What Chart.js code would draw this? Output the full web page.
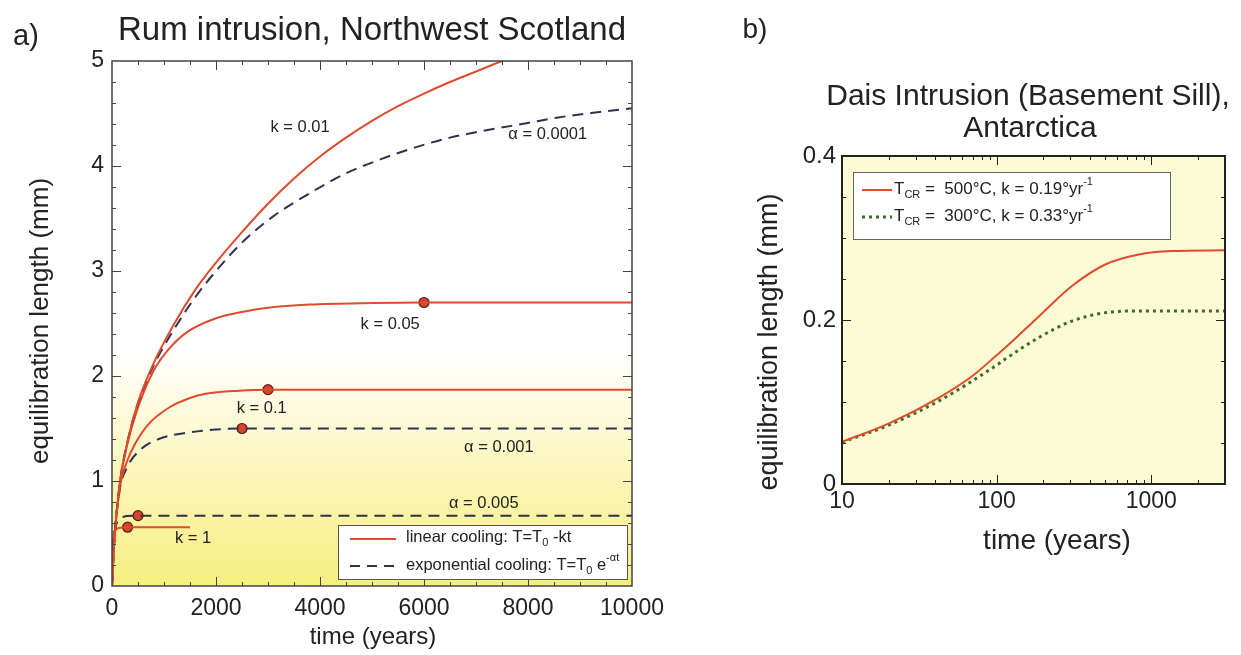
<!DOCTYPE html>
<html>
<head>
<meta charset="utf-8">
<script src="https://cdn.jsdelivr.net/npm/chart.js@4.4.0/dist/chart.umd.min.js"></script>
<style>
  body { margin: 0; background: #fff; width: 1241px; height: 655px; overflow: hidden; }
  #ca { position: absolute; left: 0; top: 0; }
  #cb { position: absolute; left: 700px; top: 0; }
</style>
</head>
<body>
<canvas id="ca" width="700" height="655"></canvas>
<canvas id="cb" width="541" height="655"></canvas>
<script>
// ---- panel a) Rum intrusion : time (years) vs equilibration length (mm) ----
const k001T = [0, 40, 150, 300, 500, 800, 1200, 1600, 2000, 2500, 3000, 3500, 4000, 4500, 5000, 5500, 6000, 6500, 7000, 7500, 7900];
const k001L = [0, 0.4, 0.98, 1.38, 1.75, 2.12, 2.5, 2.82, 3.08, 3.37, 3.64, 3.88, 4.09, 4.27, 4.43, 4.57, 4.69, 4.8, 4.9, 5.0, 5.07];

const a0001T = [0, 40, 150, 300, 500, 800, 1200, 1600, 2000, 2500, 3100, 3800, 4500, 5200, 5850, 6500, 7200, 8000, 8550, 9300, 10000];
const a0001L = [0, 0.4, 0.98, 1.38, 1.74, 2.1, 2.45, 2.75, 3.0, 3.27, 3.52, 3.74, 3.93, 4.07, 4.18, 4.27, 4.34, 4.41, 4.46, 4.51, 4.55];

const k005T = [0, 40, 150, 300, 500, 800, 1100, 1450, 2000, 2500, 3000, 3800, 5000, 6000, 10000];
const k005L = [0, 0.4, 0.97, 1.36, 1.7, 2.05, 2.26, 2.42, 2.55, 2.61, 2.65, 2.68, 2.695, 2.7, 2.7];

const k01T = [0, 40, 150, 300, 450, 700, 1100, 1500, 1800, 2450, 3000, 10000];
const k01L = [0, 0.4, 0.93, 1.2, 1.36, 1.54, 1.7, 1.79, 1.83, 1.86, 1.87, 1.87];

const a001T = [0, 40, 150, 280, 550, 900, 1450, 2000, 2500, 3500, 10000];
const a001L = [0, 0.4, 0.92, 1.12, 1.3, 1.4, 1.46, 1.49, 1.5, 1.5, 1.5];

const a005T = [0, 20, 50, 100, 200, 400, 10000];
const a005L = [0, 0.35, 0.52, 0.61, 0.655, 0.668, 0.67];

const k1T = [0, 10, 25, 60, 150, 300, 1500];
const k1L = [0, 0.3, 0.48, 0.53, 0.555, 0.56, 0.56];

const markT = [300, 500, 2500, 3000, 6000];
const markL = [0.56, 0.67, 1.5, 1.87, 2.7];

const noteText = ['k = 0.01', 'α = 0.0001', 'k = 0.05', 'k = 0.1', 'α = 0.001', 'α = 0.005', 'k = 1'];
const noteT = [3615, 8380, 5350, 2880, 7440, 7150, 1560];
const noteL = [4.37, 4.3, 2.49, 1.69, 1.32, 0.79, 0.45];

// ---- panel b) Dais intrusion ----
const tB = [10, 20, 43, 70, 100, 115, 189, 310, 508, 833, 1366, 3000];
const red500 = [0.0514, 0.0737, 0.106, 0.132, 0.157, 0.167, 0.205, 0.242, 0.268, 0.28, 0.284, 0.285];
const green300 = [0.051, 0.0717, 0.102, 0.126, 0.145, 0.153, 0.179, 0.199, 0.209, 0.211, 0.211, 0.211];

const FONT = '"Liberation Sans", Arial, sans-serif';
const RED = '#e04b2c';
const NAVY = '#2e3152';
const GREEN = '#3d6b2a';

Chart.defaults.font.family = FONT;
Chart.defaults.color = '#222';

function pts(xs, ys) {
  return xs.map((x, i) => ({ x: x, y: ys[i] }));
}

function line(xs, ys, color, dash, width) {
  return {
    data: pts(xs, ys),
    showLine: true,
    borderColor: color,
    borderWidth: width || 2,
    borderDash: dash || [],
    pointRadius: 0,
    cubicInterpolationMode: 'monotone',
    fill: false
  };
}

// text with subscripts / superscripts
function drawRuns(ctx, runs, x, y, size) {
  runs.forEach(r => {
    const s = r[0], kind = r[1] || 'n';
    const f = kind === 'n' ? size : Math.round(size * 0.65);
    ctx.font = f + 'px ' + FONT;
    const dy = kind === 'sub' ? size * 0.35 : kind === 'sup' ? -size * 0.42 : 0;
    ctx.fillText(s, x, y + dy);
    x += ctx.measureText(s).width;
  });
}

function txt(ctx, s, x, y, size, align, rot) {
  ctx.save();
  ctx.font = size + 'px ' + FONT;
  ctx.fillStyle = '#222';
  ctx.textAlign = align || 'center';
  ctx.textBaseline = 'middle';
  ctx.translate(x, y);
  if (rot) ctx.rotate(rot);
  ctx.fillText(s, 0, 0);
  ctx.restore();
}

// background, frame with inward ticks
function frame(opts) {
  return {
    id: 'frame',
    beforeDatasetsDraw(chart) {
      const a = chart.chartArea, ctx = chart.ctx;
      ctx.save();
      ctx.fillStyle = opts.bg(ctx, a);
      ctx.fillRect(a.left, a.top, a.right - a.left, a.bottom - a.top);
      ctx.restore();
    },
    afterDatasetsDraw(chart) {
      const a = chart.chartArea, ctx = chart.ctx;
      const xs = chart.scales.x, ys = chart.scales.y;
      ctx.save();
      ctx.strokeStyle = opts.frameColor;
      ctx.lineWidth = 1;
      ctx.beginPath();
      opts.xTicks.forEach(t => {
        const p = Math.round(xs.getPixelForValue(t[0])) + 0.5, len = t[1];
        ctx.moveTo(p, a.bottom); ctx.lineTo(p, a.bottom - len);
        ctx.moveTo(p, a.top); ctx.lineTo(p, a.top + len);
      });
      opts.yTicks.forEach(t => {
        const p = Math.round(ys.getPixelForValue(t[0])) + 0.5, len = t[1];
        ctx.moveTo(a.left, p); ctx.lineTo(a.left + len, p);
        ctx.moveTo(a.right, p); ctx.lineTo(a.right - len, p);
      });
      ctx.stroke();
      ctx.lineWidth = opts.frameWidth;
      ctx.strokeRect(a.left, a.top, a.right - a.left, a.bottom - a.top);
      ctx.restore();
    },
    afterDraw(chart) {
      opts.extra(chart, chart.ctx);
    }
  };
}

// ---------- chart a ----------
const xTicksA = [];
for (let t = 500; t < 10000; t += 500) xTicksA.push([t, t % 2000 === 0 ? 9 : 4]);
const yTicksA = [];
for (let v = 0.2; v < 5; v += 0.2) yTicksA.push([v, Math.abs(v - Math.round(v)) < 0.01 ? 9 : 4]);

new Chart(document.getElementById('ca'), {
  type: 'scatter',
  data: {
    datasets: [
      line(k001T, k001L, RED),
      line(a0001T, a0001L, NAVY, [11, 7]),
      line(k005T, k005L, RED),
      line(k01T, k01L, RED),
      line(a001T, a001L, NAVY, [11, 7]),
      line(a005T, a005L, NAVY, [11, 7]),
      line(k1T, k1L, RED),
      {
        data: pts(markT, markL),
        pointRadius: 5,
        pointBackgroundColor: '#d0452c',
        pointBorderColor: '#5a1c12',
        pointBorderWidth: 1.2,
        showLine: false
      }
    ]
  },
  options: {
    responsive: false,
    animation: false,
    layout: { padding: { left: 0, right: 68, top: 61, bottom: 0 } },
    plugins: { legend: { display: false }, tooltip: { enabled: false } },
    scales: {
      x: {
        type: 'linear', min: 0, max: 10000,
        grid: { display: false, drawTicks: false }, border: { display: false },
        ticks: { stepSize: 2000, font: { size: 23 }, padding: 9, maxRotation: 0, callback: v => String(v) },
        afterFit: s => { s.height = 69; }
      },
      y: {
        type: 'linear', min: 0, max: 5,
        grid: { display: false, drawTicks: false }, border: { display: false },
        ticks: { stepSize: 1, font: { size: 23 }, padding: 8 },
        afterFit: s => { s.width = 112; }
      }
    }
  },
  plugins: [frame({
    bg: (ctx, a) => {
      const g = ctx.createLinearGradient(0, a.top, 0, a.bottom);
      g.addColorStop(0, '#ffffff');
      g.addColorStop(0.55, '#ffffff');
      g.addColorStop(0.78, '#fcf6bb');
      g.addColorStop(1, '#f7ee80');
      return g;
    },
    frameColor: '#444',
    frameWidth: 1.5,
    xTicks: xTicksA,
    yTicks: yTicksA,
    extra: (chart, ctx) => {
      const xs = chart.scales.x, ys = chart.scales.y;
      txt(ctx, 'a)', 26, 37, 29);
      txt(ctx, 'Rum intrusion, Northwest Scotland', 372, 31, 33);
      txt(ctx, 'equilibration length (mm)', 41, 321, 26, 'center', -Math.PI / 2);
      txt(ctx, 'time (years)', 373, 637, 24);
      noteText.forEach((s, i) => {
        txt(ctx, s, xs.getPixelForValue(noteT[i]), ys.getPixelForValue(noteL[i]), 16.5);
      });
      // legend
      ctx.save();
      ctx.fillStyle = '#fff';
      ctx.fillRect(338, 525, 289, 54);
      ctx.strokeStyle = '#555';
      ctx.lineWidth = 1;
      ctx.strokeRect(338.5, 525.5, 289, 54);
      ctx.lineWidth = 2;
      ctx.strokeStyle = RED;
      ctx.beginPath(); ctx.moveTo(350, 539); ctx.lineTo(396, 539); ctx.stroke();
      ctx.strokeStyle = NAVY;
      ctx.setLineDash([10, 7]);
      ctx.beginPath(); ctx.moveTo(350, 566); ctx.lineTo(396, 566); ctx.stroke();
      ctx.setLineDash([]);
      ctx.fillStyle = '#222';
      ctx.textBaseline = 'middle';
      ctx.textAlign = 'left';
      drawRuns(ctx, [['linear cooling: T=T'], ['0', 'sub'], [' -kt']], 406, 537, 16.5);
      drawRuns(ctx, [['exponential cooling: T=T'], ['0', 'sub'], [' e'], ['-αt', 'sup']], 406, 565, 16.5);
      ctx.restore();
    }
  })]
});

// ---------- chart b ----------
const xTicksB = [];
[10, 100, 1000].forEach(d => {
  for (let m = 1; m <= 9; m++) {
    const v = d * m;
    if (v > 10 && v < 3000) xTicksB.push([v, m === 1 ? 9 : 4]);
  }
});
const yTicksB = [];
for (let v = 0.05; v < 0.4; v += 0.05) yTicksB.push([v, Math.abs(v - 0.2) < 0.01 ? 9 : 4]);

new Chart(document.getElementById('cb'), {
  type: 'scatter',
  data: {
    datasets: [
      line(tB, red500, RED, [], 2),
      line(tB, green300, GREEN, [3, 4], 3)
    ]
  },
  options: {
    responsive: false,
    animation: false,
    layout: { padding: { left: 0, right: 16, top: 156, bottom: 0 } },
    plugins: { legend: { display: false }, tooltip: { enabled: false } },
    scales: {
      x: {
        type: 'logarithmic', min: 10, max: 3000,
        grid: { display: false, drawTicks: false }, border: { display: false },
        afterBuildTicks: s => { s.ticks = [10, 100, 1000].map(v => ({ value: v })); },
        ticks: { font: { size: 23 }, padding: 4, maxRotation: 0, callback: v => String(v) },
        afterFit: s => { s.height = 171; }
      },
      y: {
        type: 'linear', min: 0, max: 0.4,
        grid: { display: false, drawTicks: false }, border: { display: false },
        ticks: { stepSize: 0.2, font: { size: 24 }, padding: 6, callback: v => v === 0 ? '0' : v.toFixed(1) },
        afterFit: s => { s.width = 142; }
      }
    }
  },
  plugins: [frame({
    bg: () => '#fdfbd6',
    frameColor: '#222',
    frameWidth: 2,
    xTicks: xTicksB,
    yTicks: yTicksB,
    extra: (chart, ctx) => {
      txt(ctx, 'b)', 55, 30, 28);
      txt(ctx, 'Dais Intrusion (Basement Sill),', 328, 97, 30);
      txt(ctx, 'Antarctica', 330, 129, 30);
      txt(ctx, 'equilibration length (mm)', 70, 342, 27, 'center', -Math.PI / 2);
      txt(ctx, 'time (years)', 357, 541, 28);
      ctx.save();
      ctx.fillStyle = '#fff';
      ctx.fillRect(153, 172, 317, 67);
      ctx.strokeStyle = '#666';
      ctx.lineWidth = 1;
      ctx.strokeRect(153.5, 172.5, 317, 67);
      ctx.lineWidth = 2;
      ctx.strokeStyle = RED;
      ctx.beginPath(); ctx.moveTo(162, 190); ctx.lineTo(192, 190); ctx.stroke();
      ctx.lineWidth = 3;
      ctx.strokeStyle = GREEN;
      ctx.setLineDash([3, 4]);
      ctx.beginPath(); ctx.moveTo(162, 217); ctx.lineTo(192, 217); ctx.stroke();
      ctx.setLineDash([]);
      ctx.fillStyle = '#222';
      ctx.textBaseline = 'middle';
      ctx.textAlign = 'left';
      drawRuns(ctx, [['T'], ['CR', 'sub'], [' =  500°C, k = 0.19°yr'], ['-1', 'sup']], 194, 189, 17);
      drawRuns(ctx, [['T'], ['CR', 'sub'], [' =  300°C, k = 0.33°yr'], ['-1', 'sup']], 194, 216, 17);
      ctx.restore();
    }
  })]
});
</script>
</body>
</html>
